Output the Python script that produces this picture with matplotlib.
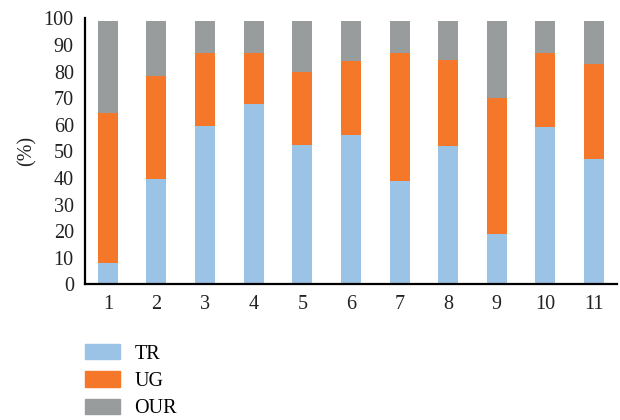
import matplotlib
matplotlib.use("Agg")
import matplotlib.pyplot as plt
from matplotlib.patches import Patch

groups = ["1", "2", "3", "4", "5", "6", "7", "8", "9", "10", "11"]
tr = [8, 39.5, 59.5, 68, 52.5, 56, 39, 52, 19, 59, 47]
ug = [56.5, 39, 27.5, 19, 27.5, 28, 48, 32.5, 51, 28, 36]
our = [34.5, 20.5, 12, 12, 19, 15, 12, 14.5, 29, 12, 16]
series = ["TR", "UG", "OUR"]

C_TR = "#9bc3e6"
C_UG = "#f4772a"
C_OUR = "#999c9d"

plt.rcParams["font.family"] = ["Liberation Serif", "DejaVu Serif"]
FS = 14.5

fig = plt.figure(figsize=(6.2, 4.2), dpi=100)
ax = fig.add_axes([0.137, 0.323, 0.858, 0.633])

x = list(range(1, len(groups) + 1))
w = 0.41
ax.bar(x, tr, w, color=C_TR)
ax.bar(x, ug, w, bottom=tr, color=C_UG)
base = [a + b for a, b in zip(tr, ug)]
ax.bar(x, our, w, bottom=base, color=C_OUR)

ax.set_xlim(0.53, 11.47)
ax.set_ylim(0, 100)
ax.set_yticks(range(0, 101, 10))
ax.set_xticks(x)
ax.set_xticklabels(groups)
ax.tick_params(axis="both", length=0, labelsize=FS, colors="#222222")
ax.tick_params(axis="y", pad=8)
ax.tick_params(axis="x", pad=8)
ax.set_ylabel("(%)", fontsize=FS, color="#222222", labelpad=5)

for s in ["top", "right"]:
    ax.spines[s].set_visible(False)
ax.spines["left"].set_linewidth(1.6)
ax.spines["bottom"].set_linewidth(1.6)

handles = [Patch(color=c) for c in (C_TR, C_UG, C_OUR)]
fig.legend(handles, series, loc="upper left", bbox_to_anchor=(0.124, 0.2),
           frameon=False, fontsize=FS, handlelength=1.75, handleheight=0.8,
           labelspacing=0.38, handletextpad=0.7, borderaxespad=0)

fig.savefig("out.png", dpi=100)
